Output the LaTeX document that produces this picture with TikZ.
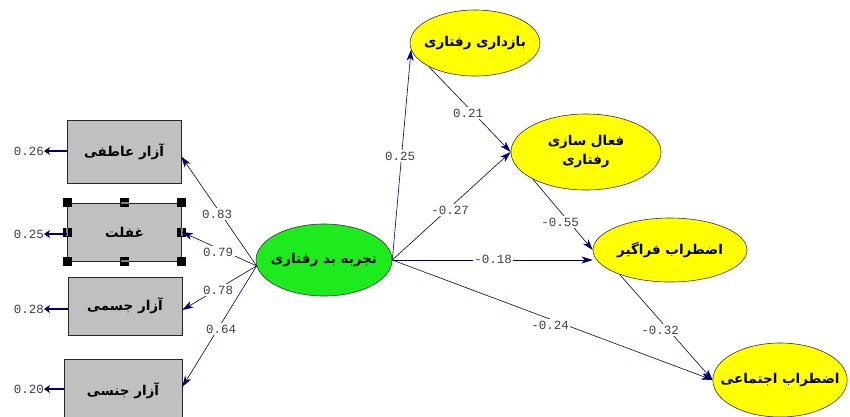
\documentclass[tikz,border=0pt]{standalone}
\usepackage{fontspec}
\TeXXeTstate=1
\newfontfamily\fa[Script=Arabic]{DejaVu Sans}
\newfontfamily\mono{Liberation Mono}
\usetikzlibrary{shapes.geometric,arrows.meta}
\definecolor{navy}{RGB}{0,0,110}
\definecolor{boxgray}{RGB}{192,192,192}
\definecolor{latgreen}{RGB}{30,235,30}
\definecolor{latyellow}{RGB}{255,255,0}
\begin{document}
\begin{tikzpicture}[x=1pt,y=-1pt,
  obs/.style={rectangle, draw=black!85, line width=0.7pt, fill=boxgray, minimum width=114pt, minimum height=58pt, inner sep=0pt, font=\fa\bfseries\fontsize{13.5}{16}\selectfont},
  lat/.style={ellipse, draw=black!80, line width=0.6pt, inner xsep=-8pt, inner ysep=0pt, align=center, font=\fa\bfseries\fontsize{13.5}{19}\selectfont},
  coef/.style={fill=white, inner sep=1.5pt, font=\mono\fontsize{12.5}{13}\selectfont, text=black!75},
  rlab/.style={inner sep=0pt, anchor=east, font=\mono\fontsize{12.5}{13}\selectfont, text=black!75},
  pth/.style={draw=navy!70!black, line width=0.6pt, -{Stealth[length=11pt,width=7pt,inset=3pt,color=navy]}},
  res/.style={draw=navy, line width=2pt, -{Stealth[length=6pt,width=8pt]}},
  handle/.style={fill=black}
]
\useasboundingbox (0,0) rectangle (850,416);
\clip (0,0) rectangle (850,416);
\fill[white] (0,0) rectangle (850,416);

% observed boxes
\node[obs, minimum height=63pt] (b1) at (124,151.5) {\beginR آزار عاطفی\endR};
\node[obs] (b2) at (124.5,232) {\beginR غفلت\endR};
\node[obs] (b3) at (125,306) {\beginR آزار جسمی\endR};
\node[obs, minimum width=118pt, minimum height=64pt] (b4) at (123,391) {\beginR آزار جنسی\endR};

% selection handles on b2
\foreach \a in {north west,north east,south west,south east,west,east,north,south}
  \fill[handle] (b2.\a) ++(-4.5,-4.5) rectangle ++(9,9);
\foreach \a in {north,south}
  \fill[gray] (b2.\a) ++(-4,-1) rectangle ++(8,2);
\foreach \a in {west,east}
  \fill[gray] (b2.\a) ++(-1,-4) rectangle ++(2,8);

% residual labels
\node[rlab] (r1) at (44,151) {0.26};
\node[rlab] (r2) at (44,234) {0.25};
\node[rlab] (r3) at (44,309) {0.28};
\node[rlab] (r4) at (44,389) {0.20};
\draw[res] (b1.west |- r1.east) -- (r1.east);
\draw[res] (b2.west |- r2.east) -- (r2.east);
\draw[res] (b3.west |- r3.east) -- (r3.east);
\draw[res] (b4.west |- r4.east) -- (r4.east);

% latent variables
\node[lat, fill=latgreen, minimum width=136pt, minimum height=72pt] (g) at (324,260) {\beginR تجربه بد رفتاری\endR};
\node[lat, fill=latyellow, minimum width=130pt, minimum height=66pt] (e1) at (475,43) {\beginR بازداری رفتاری\endR};
\node[lat, fill=latyellow, minimum width=150pt, minimum height=76pt] (e2) at (586,152) {\beginR فعال سازی\endR\\\beginR رفتاری\endR};
\node[lat, fill=latyellow, minimum width=154pt, minimum height=64pt] (e3) at (670,250) {\beginR اضطراب فراگیر\endR};
\node[lat, fill=latyellow, inner xsep=-12pt, minimum width=134pt, minimum height=74pt] (e4) at (780,380) {\beginR اضطراب اجتماعی\endR};

% paths: loadings
\draw[pth] (g.185) -- (b1.-5);
\draw[pth] (g.185) -- (b2.east);
\draw[pth] (g.185) -- (b3.-4);
\draw[pth] (g.185) -- (b4.4);

% structural paths
\draw[pth] (g.east) -- (e1.186);
\draw[pth] (g.east) -- (e2.west);
\draw[pth] (e1.207) -- (e2.west);
\draw[pth] (e2.207) -- (e3.west);
\draw[pth] (g.east) -- (g.east -| e3.west);
\draw[pth] (g.east) -- (e4.west);
\draw[pth] (e3.206) -- (e4.west);

% coefficients
\node[coef] (c1) at (217,214) {0.83};
\node[coef] (c2) at (218,252) {0.79};
\node[coef] (c3) at (218,290) {0.78};
\node[coef] (c4) at (221,329) {0.64};
\node[coef] (c5) at (400,156) {0.25};
\node[coef] (c6) at (468,113) {0.21};
\node[coef] (c7) at (450,210) {-0.27};
\node[coef] (c8) at (493,259) {-0.18};
\node[coef] (c9) at (560,222) {-0.55};
\node[coef] (c10) at (550,325) {-0.24};
\node[coef] (c11) at (660,330) {-0.32};
\end{tikzpicture}
\end{document}
